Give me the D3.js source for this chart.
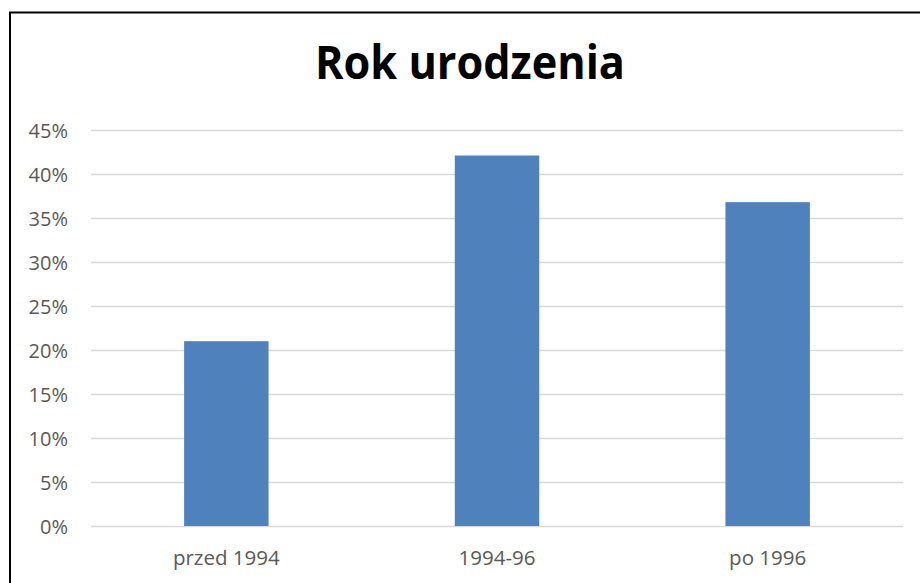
<!DOCTYPE html>
<html>
<head>
<meta charset="utf-8">
<script src="https://cdn.jsdelivr.net/npm/d3@7"></script>
<style>
  body { margin: 0; background: #fff; }
  svg { display: block; font-family: "Open Sans", sans-serif; }
</style>
</head>
<body>
<script>
// data
const categories = ["przed 1994", "1994-96", "po 1996"];
const values = [21.0, 42.1, 36.8];
const yTicks = [0, 5, 10, 15, 20, 25, 30, 35, 40, 45];
const title = "Rok urodzenia";

const width = 920;
const height = 583;

const svg = d3.select("body")
  .append("svg")
  .attr("width", width)
  .attr("height", height);

// outer chart border (only top and left visible)
svg.append("rect")
  .attr("x", 10)
  .attr("y", 12.5)
  .attr("width", 940)
  .attr("height", 600)
  .attr("fill", "none")
  .attr("stroke", "#000")
  .attr("stroke-width", 2);

const margin = {top: 130, right: 17, bottom: 57, left: 91};
const innerWidth = width - margin.left - margin.right;
const innerHeight = height - margin.top - margin.bottom;

const xScale = d3.scaleBand()
  .domain(categories)
  .range([0, innerWidth])
  .paddingInner(0.688)
  .paddingOuter(0.344);

const yScale = d3.scaleLinear()
  .domain([0, 45])
  .range([innerHeight, 0]);

const g = svg.append("g")
  .attr("transform", `translate(${margin.left},${margin.top})`);

// y axis + gridlines
const yAxis = g.append("g")
  .call(d3.axisLeft(yScale)
    .tickValues(yTicks)
    .tickFormat(d => d + "%")
    .tickSize(-innerWidth)
    .tickPadding(23))
  .attr("font-family", "Open Sans, sans-serif");
yAxis.select(".domain").remove();
yAxis.selectAll(".tick line")
  .attr("stroke", "#d9d9d9")
  .attr("stroke-width", 1.5);
yAxis.selectAll(".tick text")
  .attr("fill", "#595959")
  .attr("font-size", 20)
  .attr("dy", "0.36em");

// bars
g.selectAll("rect.bar").data(values)
  .enter().append("rect")
    .attr("class", "bar")
    .attr("x", (d, i) => xScale(categories[i]))
    .attr("y", d => yScale(d))
    .attr("width", xScale.bandwidth())
    .attr("height", d => innerHeight - yScale(d))
    .attr("fill", "#4f81bd");

// x axis labels
const xAxis = g.append("g")
  .attr("transform", `translate(0,${innerHeight})`)
  .call(d3.axisBottom(xScale).tickSize(0).tickPadding(24))
  .attr("font-family", "Open Sans, sans-serif");
xAxis.select(".domain").remove();
xAxis.selectAll(".tick text")
  .attr("fill", "#595959")
  .attr("font-size", 20.5);

// title
svg.append("text")
  .attr("x", 470)
  .attr("y", 79)
  .attr("text-anchor", "middle")
  .attr("font-size", 46)
  .attr("font-weight", "bold")
  .attr("fill", "#000")
  .attr("textLength", 310)
  .attr("lengthAdjust", "spacingAndGlyphs")
  .text(title);
</script>
</body>
</html>
